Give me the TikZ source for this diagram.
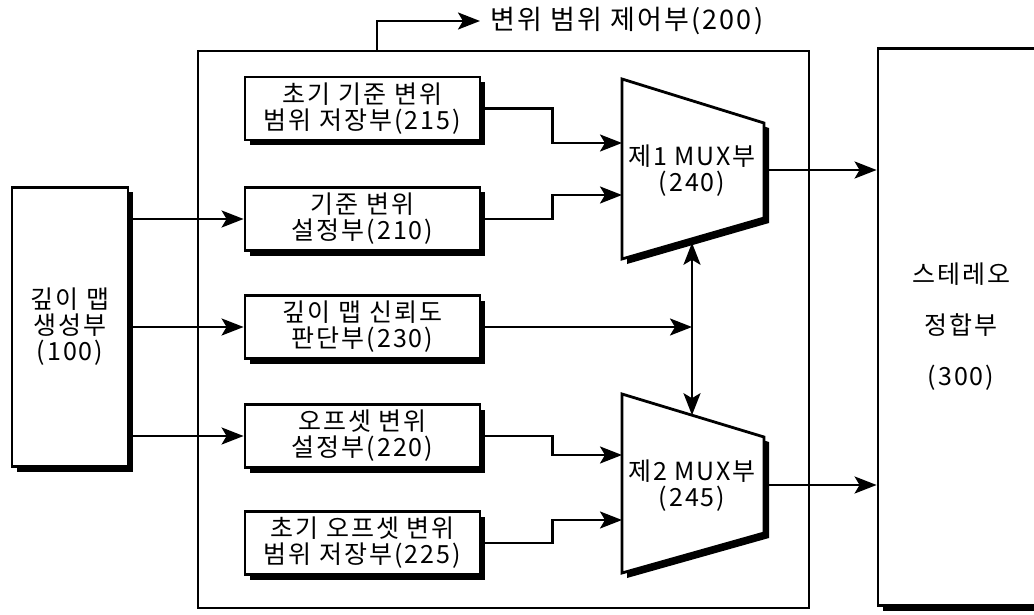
\documentclass[tikz,border=0pt]{standalone}
\usepackage{fontspec}
\setmainfont{Noto Sans CJK KR}[LetterSpace=8]
\usetikzlibrary{arrows.meta,calc,shadows}

\begin{document}
\begin{tikzpicture}[x=1pt,y=-1pt,
  font=\fontsize{25}{26}\selectfont,
  blk/.style={draw=black,line width=2.8pt,fill=white,align=center,inner sep=0pt,
    drop shadow={shadow xshift=5pt,shadow yshift=-5pt,fill=black,opacity=1}},
  unit/.style={blk,minimum width=235pt,minimum height=63pt},
  frame/.style={draw=black,line width=2.4pt},
  tip/.tip={Stealth[length=22pt,width=17pt,inset=5pt]},
  conn/.style={line width=2.5pt,-tip},
  biconn/.style={line width=2.5pt,tip-tip},
  muxshape/.style={draw=black,line width=2.8pt,fill=white,line join=miter},
  muxshadow/.style={fill=black},
  lbl/.style={align=center,inner sep=0pt}
]
\useasboundingbox (0,0) rectangle (1034,615);

% control unit frame (200)
\node[frame,minimum width=611pt,minimum height=557pt,inner sep=0pt] (c200) at (503.5,329.5) {};
\coordinate (tap) at (377,51);
\node[lbl,anchor=west,font=\fontsize{27}{27}\selectfont] (t200) at (490,21) {변위 범위 제어부(200)};
\draw[conn] (tap) |- ([xshift=-10pt]t200.west);

% depth map generator (100)
\node[blk,minimum width=116pt,minimum height=279pt] (b100) at (70,327)
  {깊이 맵\\생성부\\(100)};

% stereo matching unit (300)
\node[blk,minimum width=166pt,minimum height=557pt,
  font=\fontsize{25}{51}\selectfont] (b300) at (961,327)
  {스테레오\\정합부\\(300)};

% units inside the frame
\node[unit] (b215) at (362.5,108.5) {초기 기준 변위\\범위 저장부(215)};
\node[unit] (b210) at (362.5,219) {기준 변위\\설정부(210)};
\node[unit] (b230) at (362.5,327) {깊이 맵 신뢰도\\판단부(230)};
\node[unit] (b220) at (362.5,436) {오프셋 변위\\설정부(220)};
\node[unit] (b225) at (362.5,543) {초기 오프셋 변위\\범위 저장부(225)};

% first multiplexer (240)
\coordinate (m1tl) at (622,79);
\coordinate (m1tr) at (764,123);
\coordinate (m1br) at (764,218);
\coordinate (m1bl) at (622,259);
\fill[muxshadow] ($(m1tl)+(5,5)$) -- ($(m1tr)+(5,5)$) -- ($(m1br)+(5,5)$) -- ($(m1bl)+(5,5)$) -- cycle;
\draw[muxshape] (m1tl) -- (m1tr) -- (m1br) -- (m1bl) -- cycle;
\node[lbl] (m240) at (692,171) {제1 MUX부\\(240)};

% second multiplexer (245)
\coordinate (m2tl) at (622,394);
\coordinate (m2tr) at (764,437);
\coordinate (m2br) at (764,533);
\coordinate (m2bl) at (622,573);
\fill[muxshadow] ($(m2tl)+(5,5)$) -- ($(m2tr)+(5,5)$) -- ($(m2br)+(5,5)$) -- ($(m2bl)+(5,5)$) -- cycle;
\draw[muxshape] (m2tl) -- (m2tr) -- (m2br) -- (m2bl) -- cycle;
\node[lbl] (m245) at (692,486) {제2 MUX부\\(245)};

% mux ports
\coordinate (m1in1) at (622,143);
\coordinate (m1in2) at (622,195);
\coordinate (m2in1) at (622,455);
\coordinate (m2in2) at (622,520);
\coordinate (m1out) at (764,170);
\coordinate (m2out) at (764,485);
\coordinate (m1sel) at ($(m1bl)!0.493!(m1br)+(0,4)$);
\coordinate (m2sel) at ($(m2tl)!0.493!(m2tr)$);
\coordinate (jn) at ($(m1sel)!(b230.east)!(m2sel)$);

% depth map to the setting units
\draw[conn] (b100.east |- b210.west) -- (b210.west);
\draw[conn] (b100.east |- b230.west) -- (b230.west);
\draw[conn] (b100.east |- b220.west) -- (b220.west);

% units to the multiplexers
\draw[conn] (b215.east) -- ++(71,0) |- (m1in1);
\draw[conn] (b210.east) -- ++(71,0) |- (m1in2);
\draw[conn] (b220.east) -- ++(71,0) |- (m2in1);
\draw[conn] (b225.east) -- ++(71,0) |- (m2in2);

% reliability decision to the select line
\draw[conn] (b230.east) -- (jn);
\draw[biconn] (m1sel) -- (m2sel);

% multiplexer outputs to stereo matching
\draw[conn] (m1out) -- (b300.west |- m1out);
\draw[conn] (m2out) -- (b300.west |- m2out);
\end{tikzpicture}
\end{document}
